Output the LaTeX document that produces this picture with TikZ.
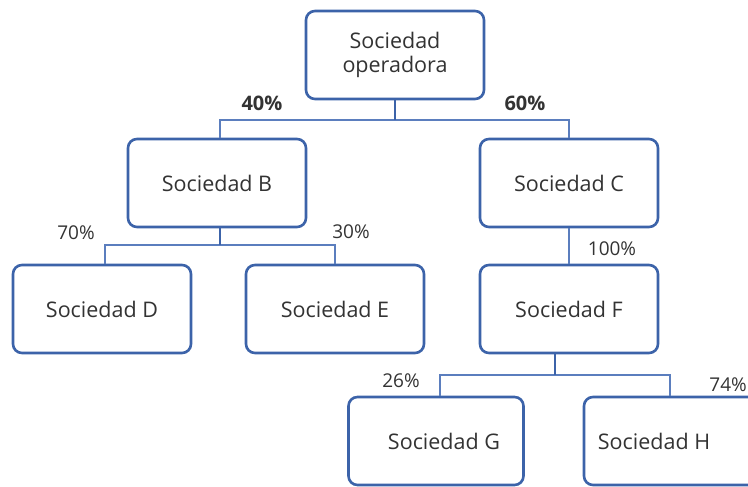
\documentclass[tikz,border=0pt]{standalone}
\usepackage{fontspec}
\setmainfont{Open Sans}
\definecolor{boxblue}{HTML}{3C63A9}
\definecolor{linkblue}{HTML}{5B7EBE}
\definecolor{txtgray}{HTML}{333333}
\tikzset{
  soc/.style={draw=boxblue,line width=2.6pt,rounded corners=9pt,fill=white,
    minimum width=#1,minimum height=88pt,align=center,text=txtgray,
    font=\fontsize{21.5}{24}\selectfont},
  soc/.default=178pt,
  link/.style={draw=linkblue,line width=1.5pt},
  stub/.style={draw=boxblue,line width=2.5pt},
  pct/.style={text=txtgray,font=\fontsize{19}{22}\selectfont},
  bpct/.style={text=txtgray,font=\bfseries\fontsize{20}{24}\selectfont}
}
\begin{document}
\begin{tikzpicture}[x=1pt,y=-1pt]
\useasboundingbox (0,0) rectangle (748,487);

% Companies
\node[soc] (op) at (395,55) {Sociedad\\operadora};
\node[soc] (b) at (217,183) {Sociedad B};
\node[soc] (c) at (569,183) {Sociedad C};
\node[soc] (d) at (102,309) {Sociedad D};
\node[soc] (e) at (335,309) {Sociedad E};
\node[soc] (f) at (569,309) {Sociedad F};
\node[soc=175pt] (g) at (436,441) {\hspace*{16pt}Sociedad G};
\node[soc] (h) at (673,441) {Sociedad H\hspace*{38pt}};

% Junctions
\coordinate (jop) at (395,120);
\coordinate (jb) at (220,245);
\coordinate (jf) at (555,375);

% Operadora -> B, C
\draw[link] (jop) -| ([xshift=3pt]b.north);
\draw[link] (jop) -| (c.north);
\draw[stub] (op.south) -- (jop);

% B -> D, E
\draw[link] (jb) -| ([xshift=3pt]d.north);
\draw[link] (jb) -| (e.north);
\draw[stub] ([xshift=3pt]b.south) -- (jb);

% C -> F
\draw[link] (c.south) -- (f.north);

% F -> G, H
\draw[link] (jf) -| ([xshift=4pt]g.north);
\draw[link] (jf) -| ([xshift=-3pt]h.north);
\draw[stub] ([xshift=-14pt]f.south) -- (jf);

% Shares
\node[bpct] (p40) at (262,103) {40\%};
\node[bpct] (p60) at (525,103) {60\%};
\node[pct] (p70) at (76,233) {70\%};
\node[pct] (p30) at (351,232) {30\%};
\node[pct] (p100) at (612,249) {100\%};
\node[pct] (p26) at (401,381) {26\%};
\node[pct,anchor=east,inner xsep=1pt] (p74) at (748,385) {74\%};
\end{tikzpicture}
\end{document}
